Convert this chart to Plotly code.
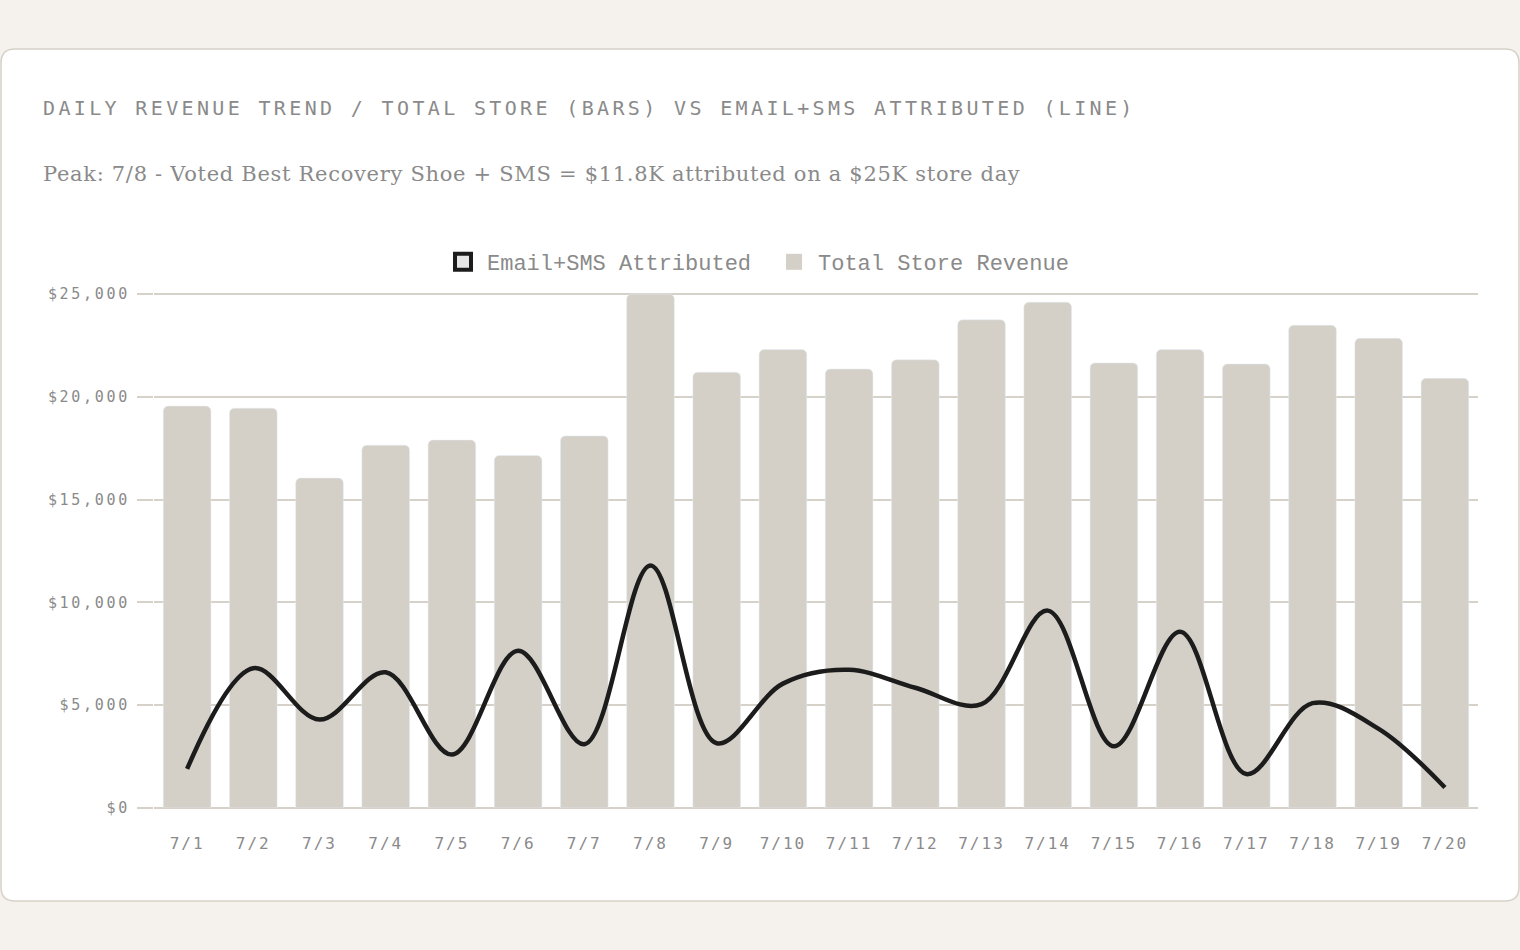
import plotly.graph_objects as go

# daily data, July 1-20
days = ["7/1", "7/2", "7/3", "7/4", "7/5", "7/6", "7/7", "7/8", "7/9", "7/10",
        "7/11", "7/12", "7/13", "7/14", "7/15", "7/16", "7/17", "7/18", "7/19", "7/20"]
store_revenue = [19550, 19450, 16050, 17650, 17900, 17150, 18100, 25000, 21200, 22300,
                 21350, 21800, 23750, 24600, 21650, 22300, 21600, 23480, 22850, 20900]
attributed = [1900, 6800, 4300, 6600, 2600, 7650, 3100, 11800, 3150, 6050,
              6720, 5850, 5050, 9600, 3000, 8570, 1650, 5100, 3850, 1000]
y_ticks = [0, 5000, 10000, 15000, 20000, 25000]
y_labels = ["$0", "$5,000", "$10,000", "$15,000", "$20,000", "$25,000"]

title_txt = "DAILY REVENUE TREND / TOTAL STORE (BARS) VS EMAIL+SMS ATTRIBUTED (LINE)"
subtitle_txt = "Peak: 7/8 - Voted Best Recovery Shoe + SMS = $11.8K attributed on a $25K store day"

W, H = 1520, 950
BAR = "#d4d0c8"
INK = "#1c1c1c"
GRID = "#d6d2c9"
MUTED = "#8a8a8a"
MONO = "DejaVu Sans Mono, monospace"
COURIER = "Liberation Mono, monospace"


def px(x, y):
    return f"{x / W:.5f},{1 - y / H:.5f}"


# rounded white card behind the chart
x0, y0, x1, y1, r = 1, 49, 1519, 901, 14
card = (f"M{px(x0 + r, y0)} L{px(x1 - r, y0)} Q{px(x1, y0)} {px(x1, y0 + r)} "
        f"L{px(x1, y1 - r)} Q{px(x1, y1)} {px(x1 - r, y1)} "
        f"L{px(x0 + r, y1)} Q{px(x0, y1)} {px(x0, y1 - r)} "
        f"L{px(x0, y0 + r)} Q{px(x0, y0)} {px(x0 + r, y0)} Z")

fig = go.Figure()
fig.add_trace(go.Bar(x=days, y=store_revenue, marker_color=BAR,
                     name="Total Store Revenue", showlegend=False))
fig.add_trace(go.Scatter(x=days, y=attributed, mode="lines", name="Email+SMS Attributed",
                         line=dict(color=INK, width=4.5, shape="spline", smoothing=1),
                         showlegend=False, cliponaxis=False))
# legend entries (square swatches like the original)
fig.add_trace(go.Scatter(x=[None], y=[None], mode="markers", name="Email+SMS Attributed",
                         marker=dict(symbol="square", size=22, color="#e6e6e6",
                                     line=dict(color=INK, width=4))))
fig.add_trace(go.Scatter(x=[None], y=[None], mode="markers", name="Total Store Revenue",
                         marker=dict(symbol="square", size=22, color=BAR,
                                     line=dict(width=0))))

fig.update_layout(
    width=W, height=H,
    margin=dict(l=0, r=0, t=0, b=0, autoexpand=False),
    paper_bgcolor="#f5f2ed",
    plot_bgcolor="white",
    bargap=0.28,
    barcornerradius=5,
    shapes=[dict(type="path", xref="paper", yref="paper", path=card,
                 fillcolor="white", line=dict(color=GRID, width=1.5), layer="below")],
    legend=dict(orientation="h", x=439 / W, xanchor="left", y=1 - 262 / H, yanchor="middle",
                font=dict(family=COURIER, size=22, color=MUTED),
                entrywidth=278, entrywidthmode="pixels",
                bgcolor="rgba(0,0,0,0)", itemwidth=38, traceorder="normal"),
    annotations=[
        dict(text=title_txt, xref="paper", yref="paper", x=41 / W, y=1 - 108 / H,
             xanchor="left", yanchor="middle", align="left", showarrow=False,
             font=dict(family=MONO, size=20, color=MUTED)),
        dict(text=subtitle_txt, xref="paper", yref="paper", x=41 / W, y=1 - 174 / H,
             xanchor="left", yanchor="middle", align="left", showarrow=False,
             font=dict(family="DejaVu Serif, serif", size=21, color=MUTED)),
    ],
    xaxis=dict(domain=[154 / W, 1478 / W], type="category", range=[-0.5, 19.5],
               showgrid=False, zeroline=False, showline=False, ticks="",
               ticklabelstandoff=24,
               tickfont=dict(family=MONO, size=16, color=MUTED)),
    yaxis=dict(domain=[1 - 808 / H, 1 - 293 / H], range=[0, 25050],
               tickvals=y_ticks, ticktext=y_labels,
               showgrid=True, gridcolor=GRID, gridwidth=1.5,
               zeroline=True, zerolinecolor=GRID, zerolinewidth=2,
               ticks="outside", ticklen=16, tickcolor=GRID, tickwidth=1.5,
               ticklabelstandoff=4,
               tickfont=dict(family=MONO, size=15, color=MUTED)),
    hovermode=False,
)

# letter spacing for the mono texts, and no page margin
post = """
document.body.style.margin = '0';
var ann = document.querySelectorAll('.annotation-text');
if (ann.length > 0) { ann[0].style.letterSpacing = '3.35px'; }
if (ann.length > 1) { ann[1].style.letterSpacing = '0.7px'; }
document.querySelectorAll('.ytick text').forEach(function(t){ t.style.letterSpacing = '2.7px'; });
document.querySelectorAll('.xtick text').forEach(function(t){ t.style.letterSpacing = '2px'; });
"""

fig.write_html("out.html", post_script=post, config={"displayModeBar": False})
